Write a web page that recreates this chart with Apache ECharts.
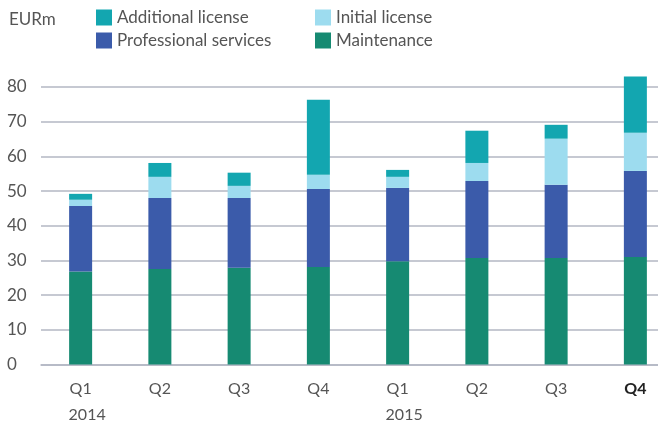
<!DOCTYPE html>
<html>
<head>
<meta charset="utf-8">
<script src="https://cdn.jsdelivr.net/npm/echarts@6/dist/echarts.min.js"></script>
<style>
  html, body { margin: 0; padding: 0; background: #fff; overflow: hidden; }
  /* chart is a bit wider than the window: gridlines run off the right edge like the original */
  #main { width: 675px; height: 427px; }
</style>
</head>
<body>
<div id="main"></div>
<script>
var quarters = ['Q1', 'Q2', 'Q3', 'Q4', 'Q1', 'Q2', 'Q3', 'Q4'];
var years = ['2014', '', '', '', '2015', '', '', ''];
var maintenance = [26.8, 27.5, 27.9, 28.1, 29.8, 30.7, 30.7, 31.0];
var professional = [18.9, 20.5, 20.1, 22.5, 21.1, 22.2, 21.1, 24.8];
var initialLicense = [1.8, 6.1, 3.5, 4.1, 3.2, 5.2, 13.3, 11.0];
var additionalLicense = [1.7, 4.0, 3.8, 21.6, 2.0, 9.3, 4.0, 16.2];
var yTicks = [0, 10, 20, 30, 40, 50, 60, 70, 80];

var chart = echarts.init(document.getElementById('main'), null, { renderer: 'canvas' });

var font = 'Lato, "Open Sans", sans-serif';
var gridColor = '#b3b7c3';

function bar(name, data, color) {
  return {
    name: name,
    type: 'bar',
    stack: 'total',
    data: data,
    barWidth: 23,
    clip: false,
    itemStyle: { color: color },
    emphasis: { disabled: true }
  };
}

function legend(left, names) {
  return {
    left: left,
    top: 9,
    padding: 0,
    orient: 'vertical',
    icon: 'rect',
    itemWidth: 16,
    itemHeight: 16,
    itemGap: 6,
    selectedMode: false,
    data: names,
    textStyle: { fontFamily: font, fontSize: 17, color: '#555', lineHeight: 16 }
  };
}

var option = {
  animation: false,
  title: {
    text: 'EURm',
    left: 4,
    top: 6,
    textStyle: { fontFamily: font, fontSize: 17, fontWeight: 'normal', color: '#555' }
  },
  legend: [
    legend(96, ['Additional license', 'Professional services']),
    legend(315, ['Initial license', 'Maintenance'])
  ],
  grid: {
    left: 41,
    right: 0,
    top: 87,
    bottom: 62.5
  },
  xAxis: {
    type: 'category',
    data: quarters,
    axisLine: { show: true, lineStyle: { color: gridColor, width: 1.5 } },
    axisTick: { show: false },
    axisLabel: {
      margin: 12,
      interval: 0,
      formatter: function (value, index) {
        var q = index === quarters.length - 1 ? '{b|' + value + '}' : '{q|' + value + '}';
        return years[index] ? q + '\n{y|' + years[index] + '}' : q;
      },
      rich: {
        q: { fontFamily: font, fontSize: 16, color: '#555', lineHeight: 25.5 },
        b: { fontFamily: font, fontSize: 16, color: '#222', fontWeight: 'bold', lineHeight: 25.5 },
        y: { fontFamily: font, fontSize: 16, color: '#555', lineHeight: 25.5, padding: [0, 0, 0, 13] }
      }
    }
  },
  yAxis: {
    type: 'value',
    min: yTicks[0],
    max: yTicks[yTicks.length - 1],
    interval: 10,
    axisLine: { show: false },
    axisTick: { show: false },
    splitLine: { lineStyle: { color: gridColor, width: 1.5 } },
    axisLabel: {
      align: 'left',
      margin: 34,
      fontFamily: font,
      fontSize: 17,
      color: '#555'
    }
  },
  series: [
    bar('Maintenance', maintenance, '#168a72'),
    bar('Professional services', professional, '#3b5baa'),
    bar('Initial license', initialLicense, '#9ddcef'),
    bar('Additional license', additionalLicense, '#13a6b0')
  ]
};

chart.setOption(option);
</script>
</body>
</html>
